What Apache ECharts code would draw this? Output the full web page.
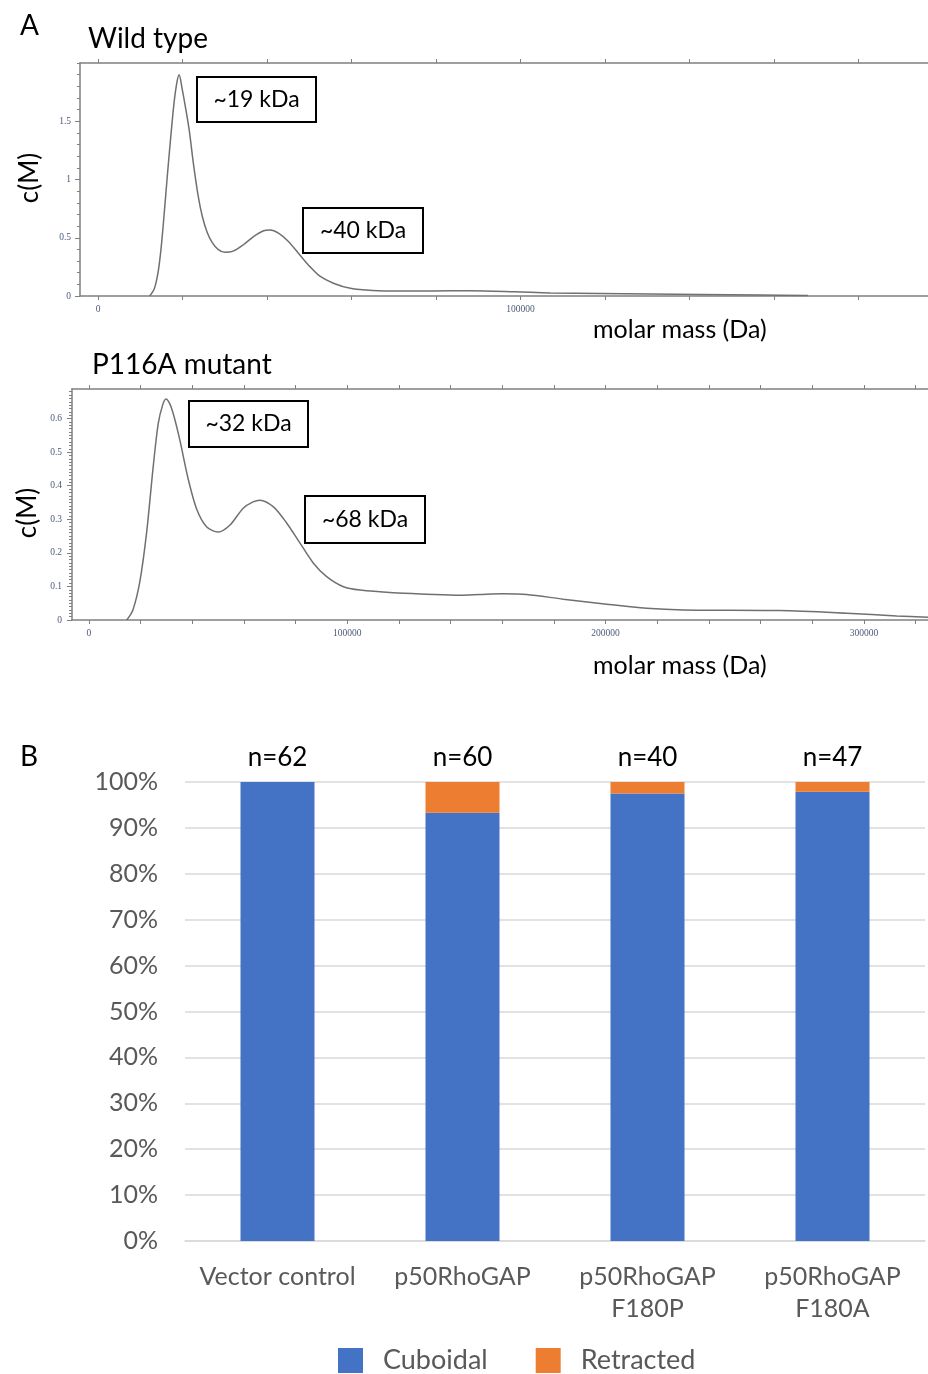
<!DOCTYPE html>
<html>
<head>
<meta charset="utf-8">
<script src="https://cdn.jsdelivr.net/npm/echarts@6/dist/echarts.min.js"></script>
<style>
html,body{margin:0;padding:0;background:#fff;}
#main{width:928px;height:1374px;}
</style>
</head>
<body>
<div id="main"></div>
<script>
// ---- Data: panel A, Wild type c(M) distribution [molar mass (Da), c(M)]
var wtMass = [12200,13300,14200,14900,15600,16400,17200,18000,18700,19200,19900,20700,21600,22600,23700,24700,25800,27000,28400,30000,32000,34400,36800,39200,40700,42700,45000,47800,50200,52500,55700,59700,65000,71500,79000,88000,98700,107000,118800,130600,142500,156700,168000];
var wtC    = [0,0.06,0.2,0.4,0.68,1.03,1.36,1.66,1.84,1.90,1.78,1.62,1.42,1.13,0.86,0.68,0.55,0.46,0.40,0.375,0.385,0.44,0.51,0.56,0.566,0.54,0.47,0.35,0.25,0.17,0.11,0.066,0.047,0.042,0.043,0.045,0.036,0.026,0.021,0.017,0.013,0.008,0.004];
// ---- Data: panel A, P116A mutant
var mutMass = [14600,17000,19700,22300,24900,26800,28500,29800,31200,32600,35200,38400,41700,45500,50000,54600,59700,63500,66200,71400,76500,81700,86800,92000,98500,105000,117800,130700,143600,151400,160000,169400,183600,200400,215900,230100,267500,293300,312700,324800];
var mutC    = [0,0.03,0.115,0.26,0.46,0.585,0.64,0.658,0.645,0.615,0.535,0.42,0.33,0.278,0.262,0.283,0.333,0.352,0.357,0.337,0.289,0.229,0.17,0.129,0.099,0.089,0.081,0.077,0.074,0.076,0.078,0.076,0.062,0.047,0.035,0.030,0.028,0.020,0.012,0.008];
// tick labels
var wtXLabels = [0,100000];
var wtYLabels = [0,0.5,1,1.5];
var mutXLabels = [0,100000,200000,300000];
var mutYLabels = [0,0.1,0.2,0.3,0.4,0.5,0.6];
// ---- Data: panel B
var categories = ['Vector control','p50RhoGAP','p50RhoGAP\nF180P','p50RhoGAP\nF180A'];
var nLabels = ['n=62','n=60','n=40','n=47'];
var cuboidal = [100,93.3,97.5,97.9];
var retracted = [0,6.7,2.5,2.1];

function range(a,b,s){var r=[];for(var v=a;v<=b+1e-9;v+=s){r.push(Math.round(v*1000)/1000);}return r;}
function pairs(xs,ys){return xs.map(function(x,i){return [x,ys[i]];});}

var axisGrey = '#808080';
var tickFont = {fontFamily:'Liberation Serif',fontSize:9.5,color:'#4c5a78'};
var mainFont = 'Lato';

function massAxis(grid,min,max,ticks,labels,pos){
  return {type:'value',gridIndex:grid,min:min,max:max,position:pos,
    axisLine:{show:true,onZero:false,lineStyle:{color:axisGrey,width:1.5}},
    axisTick:{show:true,length:4,customValues:ticks,lineStyle:{color:axisGrey}},
    axisLabel:Object.assign({show:pos==='bottom',customValues:labels,margin:8,
      formatter:function(v){return String(Math.round(v));}},tickFont),
    splitLine:{show:false}};
}
function cAxis(grid,max,labels,margin){
  return {type:'value',gridIndex:grid,min:0,max:max,position:'left',
    axisLine:{show:true,onZero:false,lineStyle:{color:axisGrey,width:1.5}},
    axisTick:{show:true,length:5,customValues:labels,lineStyle:{color:axisGrey}},
    axisLabel:Object.assign({customValues:labels,margin:margin},tickFont),
    splitLine:{show:false}};
}
function minorAxis(grid,max,vals){
  return {type:'value',gridIndex:grid,min:0,max:max,position:'left',
    axisLine:{show:false,onZero:false},
    axisTick:{show:true,length:3,customValues:vals,lineStyle:{color:axisGrey}},
    axisLabel:{show:false},splitLine:{show:false}};
}
function box(x,y,w,h,txt){
  return {type:'group',children:[
    {type:'rect',shape:{x:x,y:y,width:w,height:h},style:{fill:'#fff',stroke:'#000',lineWidth:2},z:100},
    {type:'text',x:x+w/2,y:y+h/2,style:{text:txt,fontFamily:mainFont,fontSize:23,fill:'#000',align:'center',verticalAlign:'middle'},z:101}
  ]};
}
function label(x,y,txt,size){
  return {type:'text',x:x,y:y,style:{text:txt,fontFamily:mainFont,fontSize:size,fill:'#000',verticalAlign:'middle'}};
}
function vlabel(x,y,txt,size){
  return {type:'text',x:x,y:y,rotation:Math.PI/2,style:{text:txt,fontFamily:mainFont,fontSize:size,fill:'#000',align:'center',verticalAlign:'middle'}};
}

var chart = echarts.init(document.getElementById('main'),null,{renderer:'canvas'});
var option = {
  animation:false,
  backgroundColor:'#fff',
  grid:[
    {left:80,top:63,width:848,height:233},
    {left:72,top:389,width:856,height:231},
    {left:185,top:782,width:740,height:459}
  ],
  xAxis:[
    massAxis(0,-4260,196400,range(0,180000,20000),wtXLabels,'bottom'),
    massAxis(0,-4260,196400,range(0,180000,20000),wtXLabels,'top'),
    massAxis(1,-6580,324800,range(0,320000,20000),mutXLabels,'bottom'),
    massAxis(1,-6580,324800,range(0,320000,20000),mutXLabels,'top'),
    {type:'category',gridIndex:2,data:categories,position:'bottom',
      axisLine:{lineStyle:{color:'#d9d9d9',width:1.5}},axisTick:{show:false},
      axisLabel:{fontFamily:mainFont,fontSize:25,color:'#595959',margin:20,lineHeight:32,interval:0}},
    {type:'category',gridIndex:2,data:nLabels,position:'top',
      axisLine:{show:false},axisTick:{show:false},
      axisLabel:{fontFamily:mainFont,fontSize:26,color:'#000',margin:11,interval:0}}
  ],
  yAxis:[
    cAxis(0,2.0,wtYLabels,9),
    minorAxis(0,2.0,range(0,2.0,0.1)),
    cAxis(1,0.688,mutYLabels,10),
    minorAxis(1,0.688,range(0,0.68,0.01)),
    {type:'value',gridIndex:2,min:0,max:100,interval:10,
      axisLine:{show:false},axisTick:{show:false},
      axisLabel:{formatter:'{value}%',fontFamily:mainFont,fontSize:25,color:'#595959',margin:27},
      splitLine:{lineStyle:{color:'#d9d9d9',width:1.5}}}
  ],
  legend:{data:['Cuboidal','Retracted'],left:338,top:1347,padding:0,icon:'rect',itemWidth:25,itemHeight:25,itemGap:48,
    textStyle:{fontFamily:mainFont,fontSize:27,color:'#595959',padding:[0,0,0,15]}},
  series:[
    {type:'line',xAxisIndex:0,yAxisIndex:0,data:pairs(wtMass,wtC),smooth:0.3,symbol:'none',
      lineStyle:{color:'#707070',width:1.5}},
    {type:'line',xAxisIndex:2,yAxisIndex:2,data:pairs(mutMass,mutC),smooth:0.3,symbol:'none',
      lineStyle:{color:'#707070',width:1.5}},
    {name:'Cuboidal',type:'bar',xAxisIndex:4,yAxisIndex:4,stack:'s',data:cuboidal,barWidth:74,
      itemStyle:{color:'#4472C4'}},
    {name:'Retracted',type:'bar',xAxisIndex:4,yAxisIndex:4,stack:'s',data:retracted,barWidth:74,
      itemStyle:{color:'#ED7D31'}}
  ],
  graphic:[
    label(20,26,'A',28),
    label(88,39,'Wild type',28),
    label(593,330,'molar mass (Da)',25),
    vlabel(30,178,'c(M)',26),
    label(92,365,'P116A mutant',28),
    label(593,666,'molar mass (Da)',25),
    vlabel(28,513,'c(M)',26),
    label(20,757,'B',28),
    box(197,77,119,45,'~19 kDa'),
    box(303,208,120,45,'~40 kDa'),
    box(189,401,119,46,'~32 kDa'),
    box(305,496,120,47,'~68 kDa')
  ]
};
chart.setOption(option);
</script>
</body>
</html>
